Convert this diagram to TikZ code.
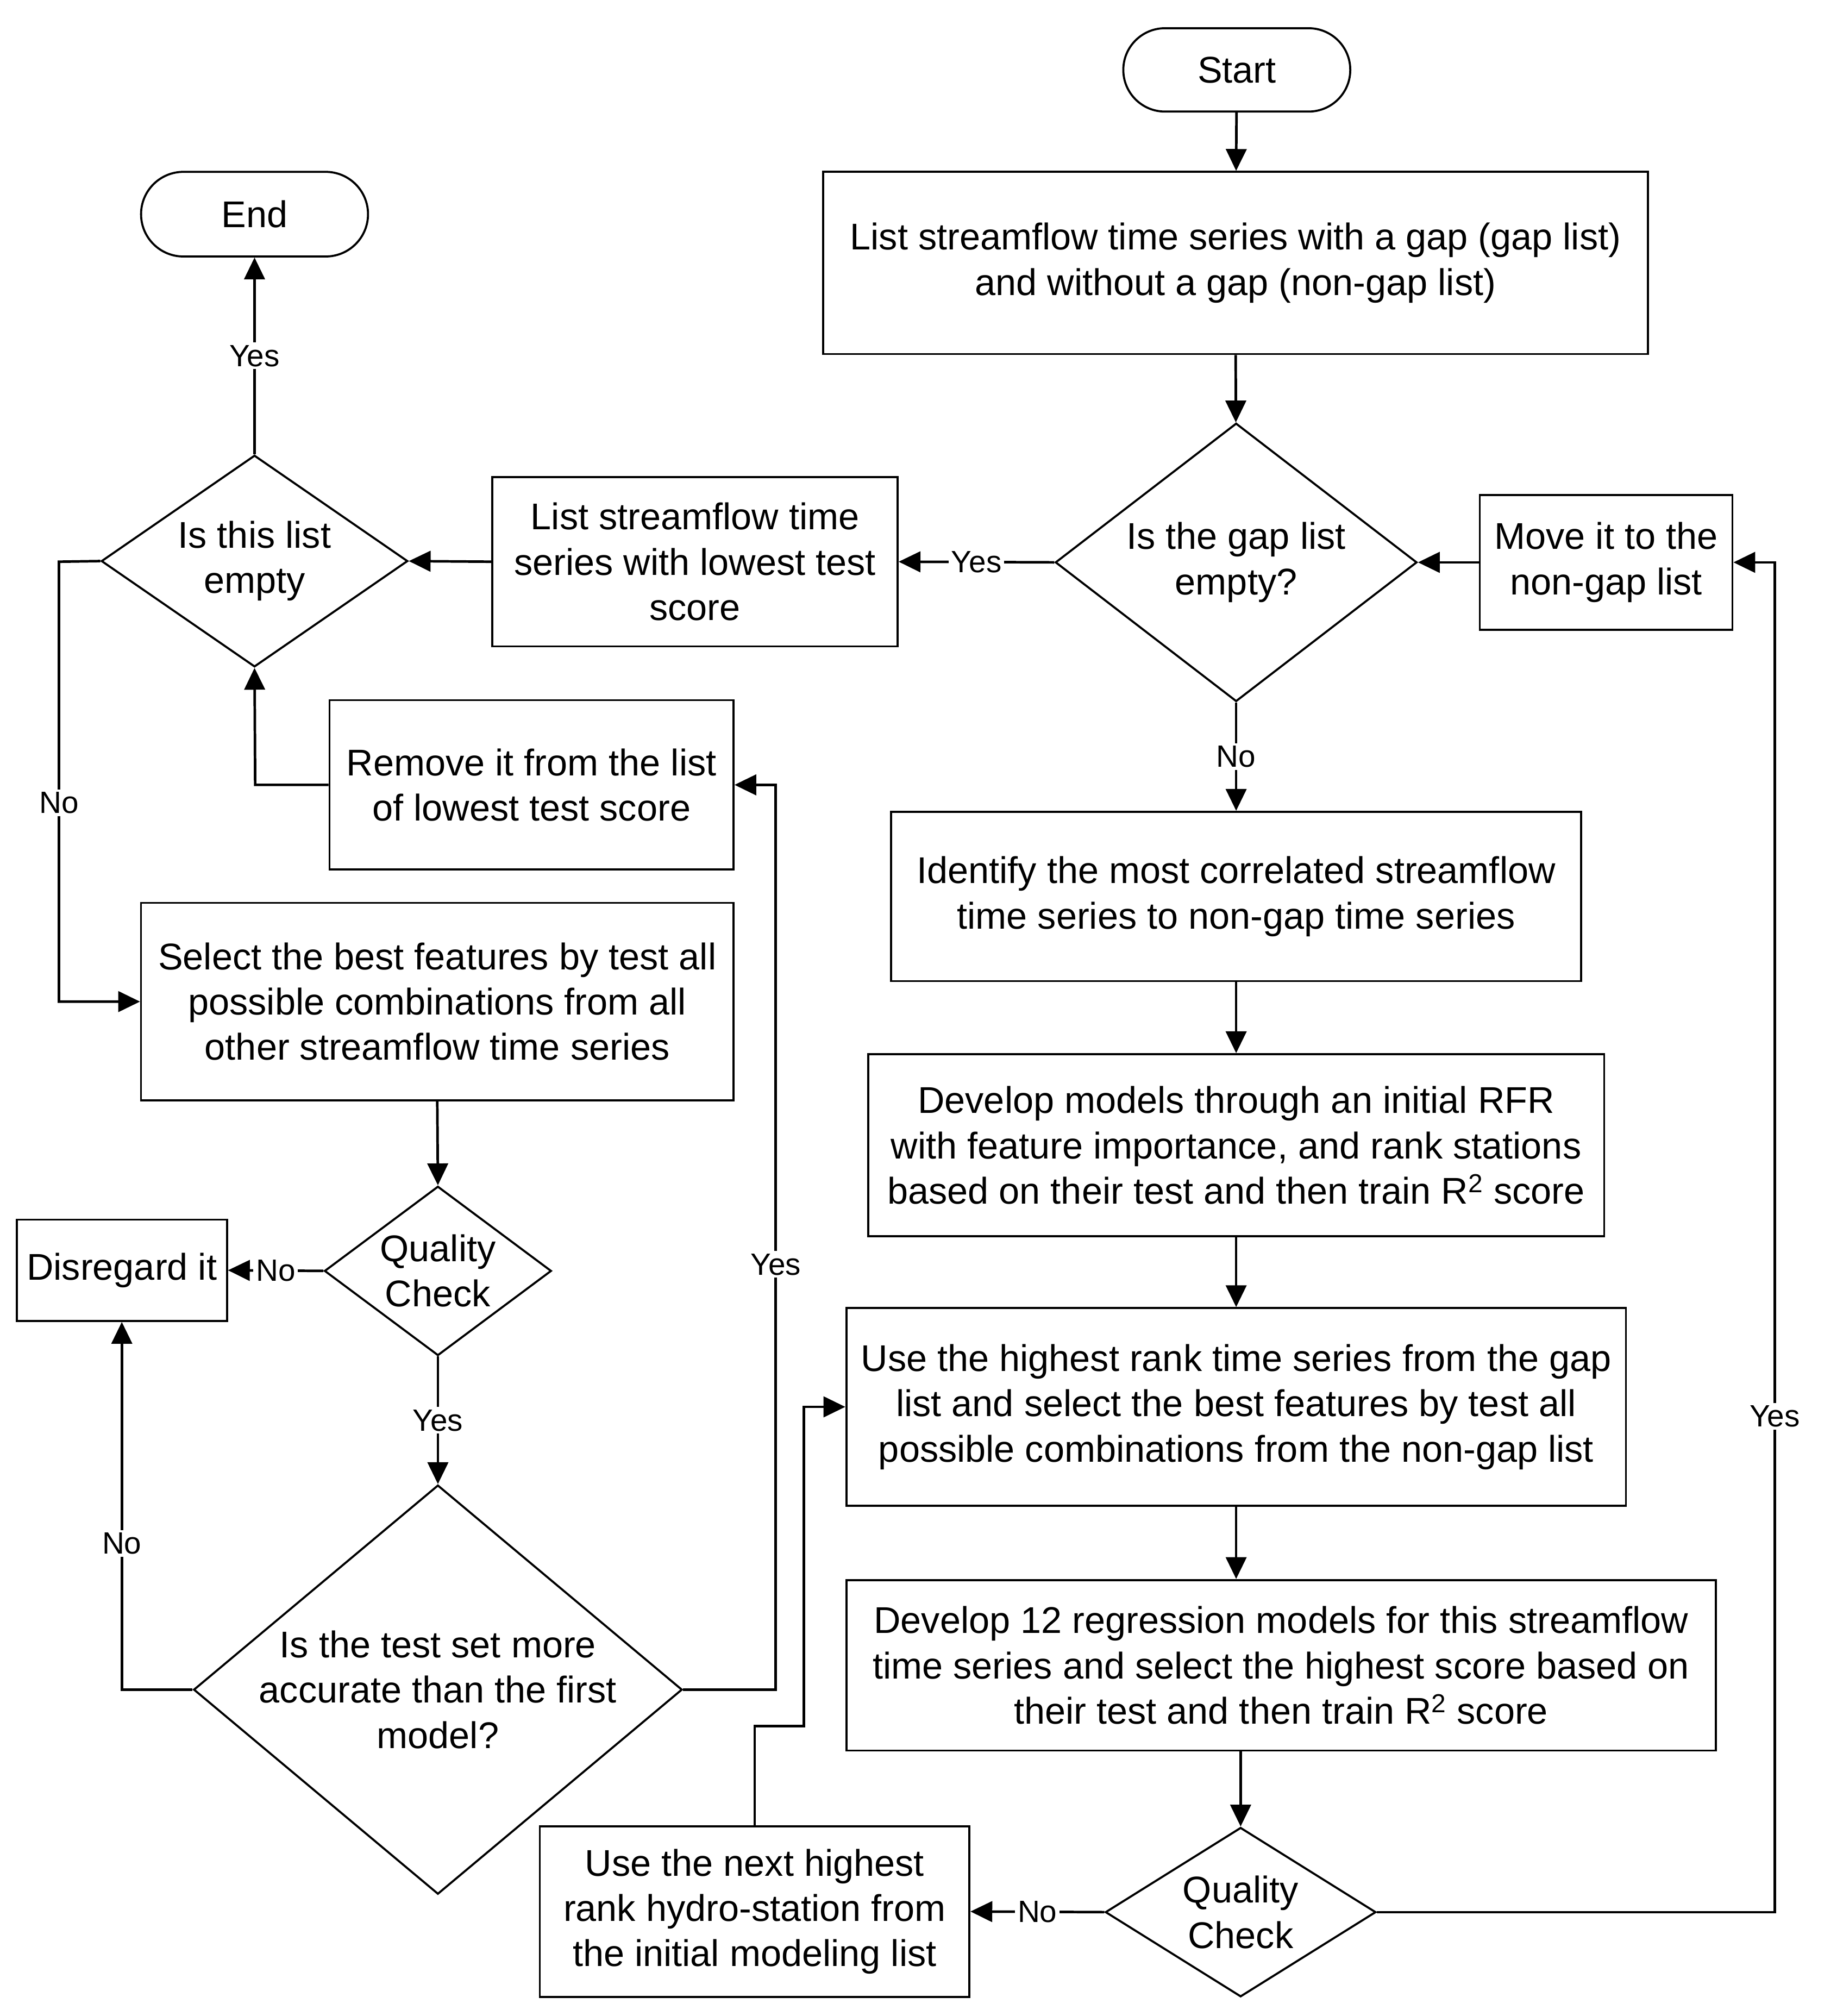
\documentclass[tikz,border=0pt]{standalone}
\usepackage{fontspec}
\setmainfont{Liberation Sans}
\usetikzlibrary{shapes.geometric,shapes.misc,arrows.meta}
\begin{document}
\begin{tikzpicture}[x=1pt,y=-1pt,
  box/.style={draw, line width=1.6pt, rectangle, inner sep=0pt, align=center, font=\fontsize{29}{35.3}\selectfont},
  dia/.style={draw, line width=1.6pt, diamond, inner sep=0pt},
  txt/.style={inner sep=0pt, align=center, font=\fontsize{29}{35.3}\selectfont},
  term/.style={draw, line width=1.6pt, rounded rectangle, inner sep=0pt, font=\fontsize{29}{35}\selectfont},
  conn/.style={line width=2pt, -{Triangle[length=17pt,width=16pt]}},
  plain/.style={line width=2pt},
  lbl/.style={fill=white, inner sep=2pt, font=\fontsize{24}{28}\selectfont}
]
\useasboundingbox (0,0) rectangle (1437,1572);
\fill[white] (0,0) rectangle (1437,1572);

% nodes
\node[term, minimum width=177pt, minimum height=65pt] (start) at (964.5,54.5) {Start};
\node[term, minimum width=177pt, minimum height=66pt] (endn) at (198.5,167) {End};
\node[box, minimum width=643pt, minimum height=142pt] (box1) at (963.5,205) {List streamflow time series with a gap (gap list)\\and without a gap (non-gap list)};
\node[dia, minimum width=282pt, minimum height=217pt] (d1) at (964,438.5) {};
\node[txt] (d1t) at (d1.center) {Is the gap list\\empty?};
\node[box, minimum width=316pt, minimum height=132pt] (lst) at (542,438) {List streamflow time\\series with lowest test\\score};
\node[dia, minimum width=239pt, minimum height=165pt] (d2) at (198.5,437.5) {};
\node[txt] (d2t) at (d2.center) {Is this list\\empty};
\node[box, minimum width=197pt, minimum height=105pt] (move) at (1252.5,438.5) {Move it to the\\non-gap list};
\node[box, minimum width=315pt, minimum height=132pt] (remove) at (414.5,612) {Remove it from the list\\of lowest test score};
\node[box, minimum width=462pt, minimum height=154pt] (select) at (341,781) {Select the best features by test all\\possible combinations from all\\other streamflow time series};
\node[dia, minimum width=177pt, minimum height=132pt] (qc2) at (341.5,991) {};
\node[txt] (qc2t) at (qc2.center) {Quality\\Check};
\node[box, minimum width=164pt, minimum height=79pt] (disregard) at (95,990.5) {Disregard it};
\node[dia, minimum width=381pt, minimum height=319pt] (d3) at (341.5,1317.5) {};
\node[txt] (d3t) at (d3.center) {Is the test set more\\accurate than the first\\model?};
\node[box, minimum width=538pt, minimum height=132pt] (identify) at (964,699) {Identify the most correlated streamflow\\time series to non-gap time series};
\node[box, minimum width=574pt, minimum height=142pt] (develop) at (964,893) {Develop models through an initial RFR\\with feature importance, and rank stations\\based on their test and then train R\textsuperscript{2} score};
\node[box, minimum width=608pt, minimum height=154pt] (use) at (964,1097) {Use the highest rank time series from the gap\\list and select the best features by test all\\possible combinations from the non-gap list};
\node[box, minimum width=678pt, minimum height=133pt] (dev12) at (999,1298.5) {Develop 12 regression models for this streamflow\\time series and select the highest score based on\\their test and then train R\textsuperscript{2} score};
\node[dia, minimum width=211pt, minimum height=132pt] (qc1) at (967.5,1491) {};
\node[txt] (qc1t) at (qc1.center) {Quality\\Check};
\node[box, minimum width=335pt, minimum height=133pt] (next) at (588.5,1490.5) {Use the next highest\\rank hydro-station from\\the initial modeling list};

% coordinates
\coordinate (c1) at (46,438);
\coordinate (c2) at (46,781);
\coordinate (c3) at (95,1317.5);
\coordinate (c4) at (605,1317.5);
\coordinate (c5) at (605,612);
\coordinate (c6) at (199,612);
\coordinate (c7) at (1384,1491);
\coordinate (c8) at (1384,438.5);
\coordinate (c9) at (588.5,1346);
\coordinate (c10) at (627,1346);
\coordinate (c11) at (627,1097);

% connectors
\draw[conn] (start) -- (box1);
\draw[conn] (box1) -- (d1);
\draw[conn] (d1.west) -- node[lbl] {Yes} (lst.east);
\draw[conn] (lst.west) -- (d2.east);
\draw[conn] (d2.north) -- node[lbl] {Yes} (endn.south);
\draw[conn] (d2.west) -- (c1) -- node[lbl, pos=0.548] {No} (c2) -- (select.west);
\draw[conn] (select.south) -- (qc2.north);
\draw[conn] (qc2.west) -- node[lbl] {No} (disregard.east);
\draw[conn] (qc2.south) -- node[lbl] {Yes} (d3.north);
\draw[conn] (d3.west) -- (c3) -- node[lbl, pos=0.397] {No} (disregard.south);
\draw[conn] (d3.east) -- (c4) -- node[lbl, pos=0.47] {Yes} (c5) -- (remove.east);
\draw[conn] (remove.west) -- (c6) -- (d2.south);
\draw[conn] (d1.south) -- node[lbl] {No} (identify.north);
\draw[conn] (identify) -- (develop);
\draw[conn] (develop) -- (use);
\draw[conn] (use.south) -- (use.south |- dev12.north);
\draw[conn] (qc1.north |- dev12.south) -- (qc1.north);
\draw[conn] (qc1.west) -- node[lbl] {No} (next.east);
\draw[conn] (qc1.east) -- (c7) -- node[lbl, pos=0.3675] {Yes} (c8) -- (move.east);
\draw[conn] (move.west) -- (d1.east);
\draw[conn] (next.north) -- (c9) -- (c10) -- (c11) -- (use.west);
\end{tikzpicture}
\end{document}
